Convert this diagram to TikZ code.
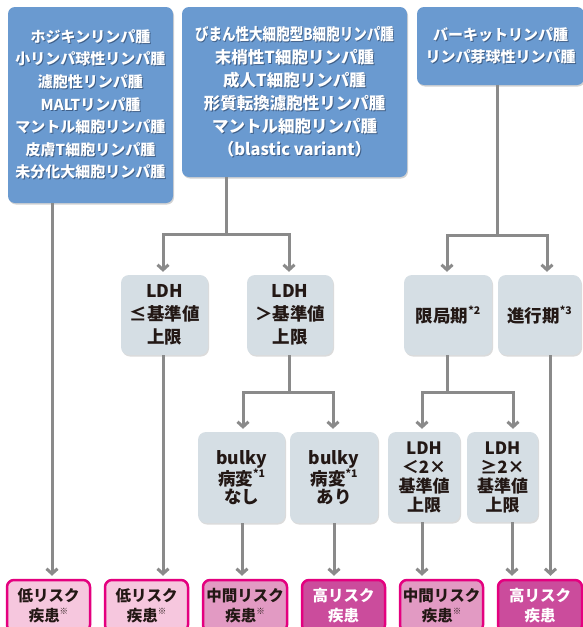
\documentclass[tikz,border=0pt]{standalone}
\usepackage{fontspec}
\usepackage{graphicx}
\setmainfont{Noto Sans CJK JP}
\usetikzlibrary{arrows.meta,shadows}
\definecolor{topblue}{HTML}{6A9AD0}
\definecolor{shc}{HTML}{3F5F88}
\definecolor{greyf}{HTML}{D5DEE4}
\definecolor{ink}{HTML}{231815}
\definecolor{lowf}{HTML}{F6C7DE}
\definecolor{midf}{HTML}{E29AC3}
\definecolor{highf}{HTML}{CB4C9C}
\definecolor{riskb}{HTML}{E4007F}
\definecolor{connc}{HTML}{8A8A8A}
\newcommand\shl[1]{\leavevmode\rlap{\kern1pt\raisebox{-1pt}{\textcolor{shc}{#1}}}#1}
\newcommand\astn[1]{\raisebox{0.45em}{\fontsize{10.5}{10.5}\selectfont *#1}}
\newcommand\kome{\raisebox{0.5em}{\fontsize{8.5}{8.5}\selectfont ※}}
\tikzset{
  topbox/.style={fill=topblue, rounded corners=7pt, text=white, align=center, inner sep=0pt,
    drop shadow={shadow xshift=1pt,shadow yshift=-1.5pt,opacity=0.25,fill=black!70}},
  greybox/.style={fill=greyf, rounded corners=8pt, text=ink, align=center, inner sep=0pt,
    drop shadow={shadow xshift=1pt,shadow yshift=-1.5pt,opacity=0.2,fill=black!70}},
  riskbox/.style={draw=riskb, line width=2.5pt, rounded corners=7pt, align=center, inner sep=0pt,
    font=\fontsize{15.5}{20}\selectfont\bfseries},
  low/.style={riskbox, fill=lowf, text=ink},
  mid/.style={riskbox, fill=midf, text=ink},
  high/.style={riskbox, fill=highf, text=white},
  cline/.style={draw=connc, line width=3pt},
  conn/.style={cline, shorten >=3pt, -{Straight Barb[length=5pt,width=11pt]}},
}
\begin{document}
\begin{tikzpicture}[x=1pt,y=-1pt]
\clip (0,0) rectangle (583,627);
\fill[white] (0,0) rectangle (583,627);
% top boxes
\node[topbox, minimum width=165pt, minimum height=196pt, font=\fontsize{15}{22.6}\selectfont\bfseries] (A) at (90.5,105)
  {\shl{ホジキンリンパ腫}\\\shl{小リンパ球性リンパ腫}\\\shl{濾胞性リンパ腫}\\\shl{MALTリンパ腫}\\\shl{マントル細胞リンパ腫}\\\shl{皮膚T細胞リンパ腫}\\\shl{未分化大細胞リンパ腫}};
\node[topbox, minimum width=225pt, minimum height=170pt, font=\fontsize{16.5}{23}\selectfont\bfseries] (B) at (294.5,92)
  {\scalebox{0.82}[1]{\shl{びまん性大細胞型B細胞リンパ腫}}\\\shl{末梢性T細胞リンパ腫}\\\shl{成人T細胞リンパ腫}\\\shl{形質転換濾胞性リンパ腫}\\\shl{マントル細胞リンパ腫}\\\shl{（blastic variant）}};
\node[topbox, minimum width=167pt, minimum height=78pt, font=\fontsize{15}{22}\selectfont\bfseries] (C) at (500.5,46)
  {\shl{バーキットリンパ腫}\\\shl{リンパ芽球性リンパ腫}};
% second level
\node[greybox, minimum width=87pt, minimum height=80pt, font=\fontsize{17.5}{23}\selectfont\bfseries] (L1) at (164.5,315) {LDH\\≤基準値\\上限};
\node[greybox, minimum width=86pt, minimum height=80pt, font=\fontsize{17.5}{23}\selectfont\bfseries] (L2) at (290,315) {LDH\\＞基準値\\上限};
\node[greybox, minimum width=88pt, minimum height=80pt, font=\fontsize{17.5}{23}\selectfont\bfseries] (G1) at (448,315) {限局期\astn{2}};
\node[greybox, minimum width=83pt, minimum height=80pt, font=\fontsize{17.5}{23}\selectfont\bfseries] (G2) at (539.5,315) {進行期\astn{3}};
% third level
\node[greybox, minimum width=87pt, minimum height=91pt, font=\fontsize{17.5}{17.5}\selectfont\bfseries] (B1) at (241.5,477.5) {bulky\\病変\astn{1}\\なし};
\node[greybox, minimum width=88pt, minimum height=91pt, font=\fontsize{17.5}{17.5}\selectfont\bfseries] (B2) at (334,477.5) {bulky\\病変\astn{1}\\あり};
\node[greybox, minimum width=72pt, minimum height=90pt, font=\fontsize{17}{19}\selectfont\bfseries] (D1) at (424,477) {LDH\\＜2×\\基準値\\上限};
\node[greybox, minimum width=71pt, minimum height=90pt, font=\fontsize{17}{19}\selectfont\bfseries] (D2) at (502.5,477) {LDH\\≥2×\\基準値\\上限};
% risk boxes
\node[low,  minimum width=83pt, minimum height=52pt] (R1) at (48.5,606) {低リスク\\疾患\kome};
\node[low,  minimum width=83pt, minimum height=52pt] (R2) at (146.5,606) {低リスク\\疾患\kome};
\node[mid,  minimum width=84pt, minimum height=52pt] (R3) at (245,606) {中間リスク\\疾患\kome};
\node[high, minimum width=83pt, minimum height=52pt] (R4) at (343.5,606) {高リスク\\疾患};
\node[mid,  minimum width=83pt, minimum height=52pt] (R5) at (441.5,606) {中間リスク\\疾患\kome};
\node[high, minimum width=84pt, minimum height=52pt] (R6) at (540,606) {高リスク\\疾患};
% branch points
\coordinate (bB) at (226,234);
\coordinate (bC) at (497,235);
\coordinate (bL) at (289,392);
\coordinate (bG) at (447,392);
% connectors
\draw[conn] ([xshift=-38.5pt]A.south) -- ([xshift=3.5pt]R1.north);
\draw[cline] ([xshift=-68.5pt]B.south) -- (bB);
\draw[conn] (bB) -| ([xshift=-1.5pt]L1.north);
\draw[conn] (bB) -| ([xshift=-1pt]L2.north);
\draw[cline] ([xshift=-3.5pt]C.south) -- (bC);
\draw[conn] (bC) -| ([xshift=-1pt]G1.north);
\draw[conn] (bC) -| ([xshift=7.5pt]G2.north);
\draw[cline] ([xshift=-1pt]L2.south) -- (bL);
\draw[conn] (bL) -| ([xshift=1.5pt]B1.north);
\draw[conn] (bL) -| ([xshift=-1pt]B2.north);
\draw[cline] ([xshift=-1pt]G1.south) -- (bG);
\draw[conn] (bG) -| ([xshift=-2pt]D1.north);
\draw[conn] (bG) -| ([xshift=10.5pt]D2.north);
\draw[conn] ([xshift=-1.5pt]L1.south) -- ([xshift=16.5pt]R2.north);
\draw[conn] ([xshift=0.5pt]B1.south) -- ([xshift=-3pt]R3.north);
\draw[conn] ([xshift=0pt]B2.south) -- ([xshift=-9.5pt]R4.north);
\draw[conn] ([xshift=-2pt]D1.south) -- ([xshift=-19.5pt]R5.north);
\draw[conn] ([xshift=9.5pt]D2.south) -- ([xshift=-28pt]R6.north);
\draw[conn] ([xshift=11pt]G2.south) -- ([xshift=10.5pt]R6.north);
\end{tikzpicture}
\end{document}
